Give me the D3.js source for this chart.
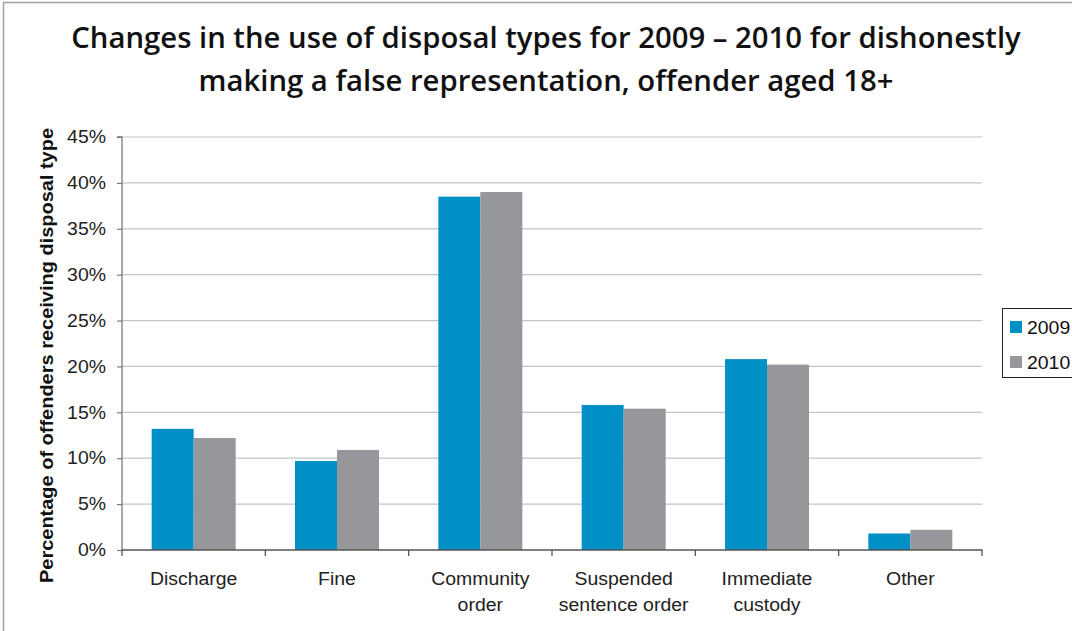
<!DOCTYPE html>
<html>
<head>
<meta charset="utf-8">
<script src="https://cdn.jsdelivr.net/npm/d3@7"></script>
<style>
  html, body { margin: 0; padding: 0; background: #fff; }
  svg { display: block; }
</style>
</head>
<body>
<svg id="chart" width="1072" height="631"></svg>
<script>
// Disposal categories (multi-line labels split on "\n")
const categories = ["Discharge", "Fine", "Community\norder", "Suspended\nsentence order", "Immediate\ncustody", "Other"];
const seriesNames = ["2009", "2010"];
const values2009 = [13.2, 9.7, 38.5, 15.8, 20.8, 1.8];
const values2010 = [12.2, 10.9, 39.0, 15.4, 20.2, 2.2];
const yTicks = [0, 5, 10, 15, 20, 25, 30, 35, 40, 45];
const colors = ["#0090c6", "#96979b"];

const titleLines = [
  "Changes in the use of disposal types for 2009 \u2013 2010 for dishonestly",
  "making a false representation, offender aged 18+"
];
const yTitle = "Percentage of offenders receiving disposal type";

const svg = d3.select("#chart");
const W = 1072, H = 631;
const plot = { left: 122, right: 982, top: 137, bottom: 550 };
const bodyFont = "Arial, 'Liberation Sans', sans-serif";
const bodySize = 18;
const widen = 1.08;

// Widen text horizontally by a factor, keeping its anchor
function stretch(sel, k) {
  sel.each(function () {
    const len = this.getComputedTextLength();
    if (len > 0) d3.select(this).attr("textLength", len * k).attr("lengthAdjust", "spacingAndGlyphs");
  });
}

// Outer frame
svg.append("rect")
  .attr("x", 3.5).attr("y", 2.5)
  .attr("width", W + 10).attr("height", H + 10)
  .attr("fill", "none").attr("stroke", "#a0a0a0").attr("stroke-width", 1.5);

// Title
svg.append("g").selectAll("text").data(titleLines).join("text")
  .attr("x", 546).attr("y", (d, i) => 48 + i * 43)
  .attr("text-anchor", "middle")
  .attr("font-family", "'Open Sans', sans-serif")
  .attr("font-weight", 600)
  .attr("font-size", 29)
  .attr("fill", "#111")
  .text(d => d)
  .call(stretch, 1.01);

const x0 = d3.scaleBand().domain(categories).range([plot.left, plot.right]).paddingInner(0).paddingOuter(0);
const barW = 42;
const x1 = d3.scaleBand().domain(seriesNames).range([0, barW * 2]);
const y = d3.scaleLinear().domain([0, 45]).range([plot.bottom, plot.top]);

// Gridlines
svg.append("g").selectAll("line").data(yTicks.filter(t => t > 0)).join("line")
  .attr("x1", plot.left).attr("x2", plot.right)
  .attr("y1", d => y(d)).attr("y2", d => y(d))
  .attr("stroke", "#c4c4c4").attr("stroke-width", 1.2);

// Bars
const rows = categories.map((c, i) => ({ c, vals: [values2009[i], values2010[i]] }));
const groups = svg.append("g").selectAll("g").data(rows).join("g")
  .attr("transform", d => `translate(${x0(d.c) + (x0.bandwidth() - barW * 2) / 2},0)`);
groups.selectAll("rect").data(d => d.vals.map((v, j) => ({ v, s: seriesNames[j], j }))).join("rect")
  .attr("x", d => x1(d.s)).attr("width", x1.bandwidth())
  .attr("y", d => y(d.v)).attr("height", d => y(0) - y(d.v))
  .attr("fill", d => colors[d.j]);

// Y axis
const yAxis = d3.axisLeft(y).tickValues(yTicks).tickFormat(d => d + "%").tickSize(5).tickPadding(11);
const gy = svg.append("g").attr("transform", `translate(${plot.left},0)`).call(yAxis);
gy.select(".domain").attr("stroke", "#7a7a7a").attr("stroke-width", 1.3).attr("d", `M-5,${plot.top}H0V${plot.bottom}`);
gy.selectAll(".tick line").attr("stroke", "#7a7a7a").attr("stroke-width", 1.2);
gy.selectAll(".tick text")
  .attr("font-family", bodyFont).attr("font-size", bodySize).attr("fill", "#222")
  .call(stretch, widen);

// X axis: baseline, category boundary ticks, and wrapped labels
const gx = svg.append("g").attr("transform", `translate(0,${plot.bottom})`);
gx.append("line").attr("x1", plot.left).attr("x2", plot.right + 0.5)
  .attr("stroke", "#555").attr("stroke-width", 1.5);
const xTickPos = categories.map(c => x0(c)).concat([x0(categories[categories.length - 1]) + x0.bandwidth()]);
gx.selectAll("line.tk").data(xTickPos).join("line").attr("class", "tk")
  .attr("x1", d => d).attr("x2", d => d).attr("y1", 0).attr("y2", 6)
  .attr("stroke", "#555").attr("stroke-width", 1.3);
const labelLines = categories.flatMap(c => c.split("\n").map((ln, i) => ({ c, ln, i })));
gx.selectAll("text.xl").data(labelLines).join("text").attr("class", "xl")
  .attr("x", d => x0(d.c) + x0.bandwidth() / 2)
  .attr("y", d => 35 + d.i * 26)
  .attr("text-anchor", "middle")
  .attr("font-family", bodyFont).attr("font-size", bodySize).attr("fill", "#222")
  .text(d => d.ln)
  .call(stretch, widen);

// Y axis title
svg.append("text")
  .attr("transform", `translate(53,${(128 + 583) / 2}) rotate(-90)`)
  .attr("text-anchor", "middle")
  .attr("font-family", bodyFont).attr("font-weight", "bold")
  .attr("font-size", 18).attr("fill", "#111")
  .text(yTitle)
  .attr("textLength", 455).attr("lengthAdjust", "spacingAndGlyphs");

// Legend
const lg = svg.append("g").attr("transform", "translate(1002,308)");
lg.append("rect").attr("x", 0.5).attr("y", 0.5).attr("width", 90).attr("height", 69)
  .attr("fill", "#fff").attr("stroke", "#222").attr("stroke-width", 1);
const li = lg.selectAll("g").data(seriesNames).join("g")
  .attr("transform", (d, i) => `translate(8,${13 + i * 35})`);
li.append("rect").attr("width", 12).attr("height", 12).attr("fill", (d, i) => colors[i]);
li.append("text").attr("x", 17).attr("y", 12.5)
  .attr("font-family", bodyFont).attr("font-size", bodySize).attr("fill", "#111")
  .text(d => d)
  .call(stretch, widen);
</script>
</body>
</html>
